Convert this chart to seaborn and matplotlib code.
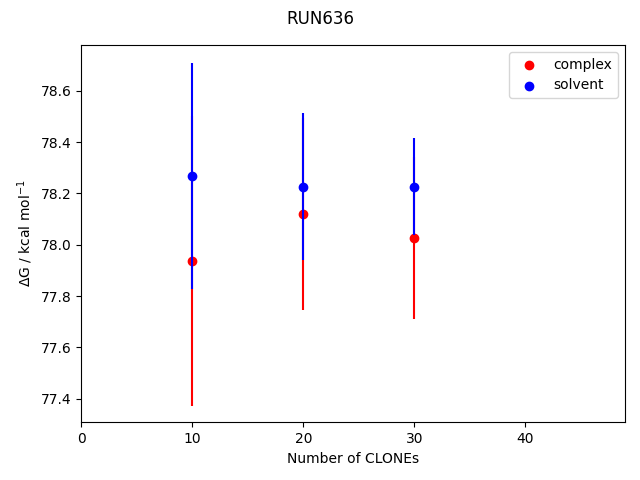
import matplotlib
matplotlib.use("Agg")
import matplotlib.pyplot as plt
from matplotlib.collections import PathCollection
import seaborn as sns
import pandas as pd

clones = [10, 20, 30]
complex_dg = [77.938, 78.121, 78.027]
complex_err = [0.565, 0.374, 0.315]
solvent_dg = [78.269, 78.226, 78.226]
solvent_err = [0.44, 0.286, 0.19]

sns.set_style("white")
plt.rcParams.update(matplotlib.rcParamsDefault)
plt.rcParams['font.family'] = ['DejaVu Sans']

fig, ax = plt.subplots(figsize=(6.4, 4.8), dpi=100)
df_c = pd.DataFrame({"x": clones, "y": complex_dg})
df_s = pd.DataFrame({"x": clones, "y": solvent_dg})

sns.scatterplot(data=df_c, x="x", y="y", color="red", edgecolor="red", linewidth=1.0,
                s=36, ax=ax, legend=False, zorder=2)
ax.errorbar(clones, complex_dg, yerr=complex_err, ls="none", color="red", zorder=2)
sns.scatterplot(data=df_s, x="x", y="y", color="blue", edgecolor="blue", linewidth=1.0,
                s=36, ax=ax, legend=False, zorder=2)
ax.errorbar(clones, solvent_dg, yerr=solvent_err, ls="none", color="blue", zorder=2)

pcs = [c for c in ax.collections if isinstance(c, PathCollection)]
ax.legend(handles=pcs[:2], labels=["complex", "solvent"], loc="upper right")

ax.set_xlim(0, 49)
ax.set_ylim(77.308, 78.778)
ax.set_xlabel("Number of CLONEs")
ax.set_ylabel(r"$\Delta$G / kcal mol$^{-1}$")
fig.suptitle("RUN636")
fig.subplots_adjust(left=0.1273, right=0.9766, top=0.9062, bottom=0.1202)
fig.savefig("out.png", dpi=100)
